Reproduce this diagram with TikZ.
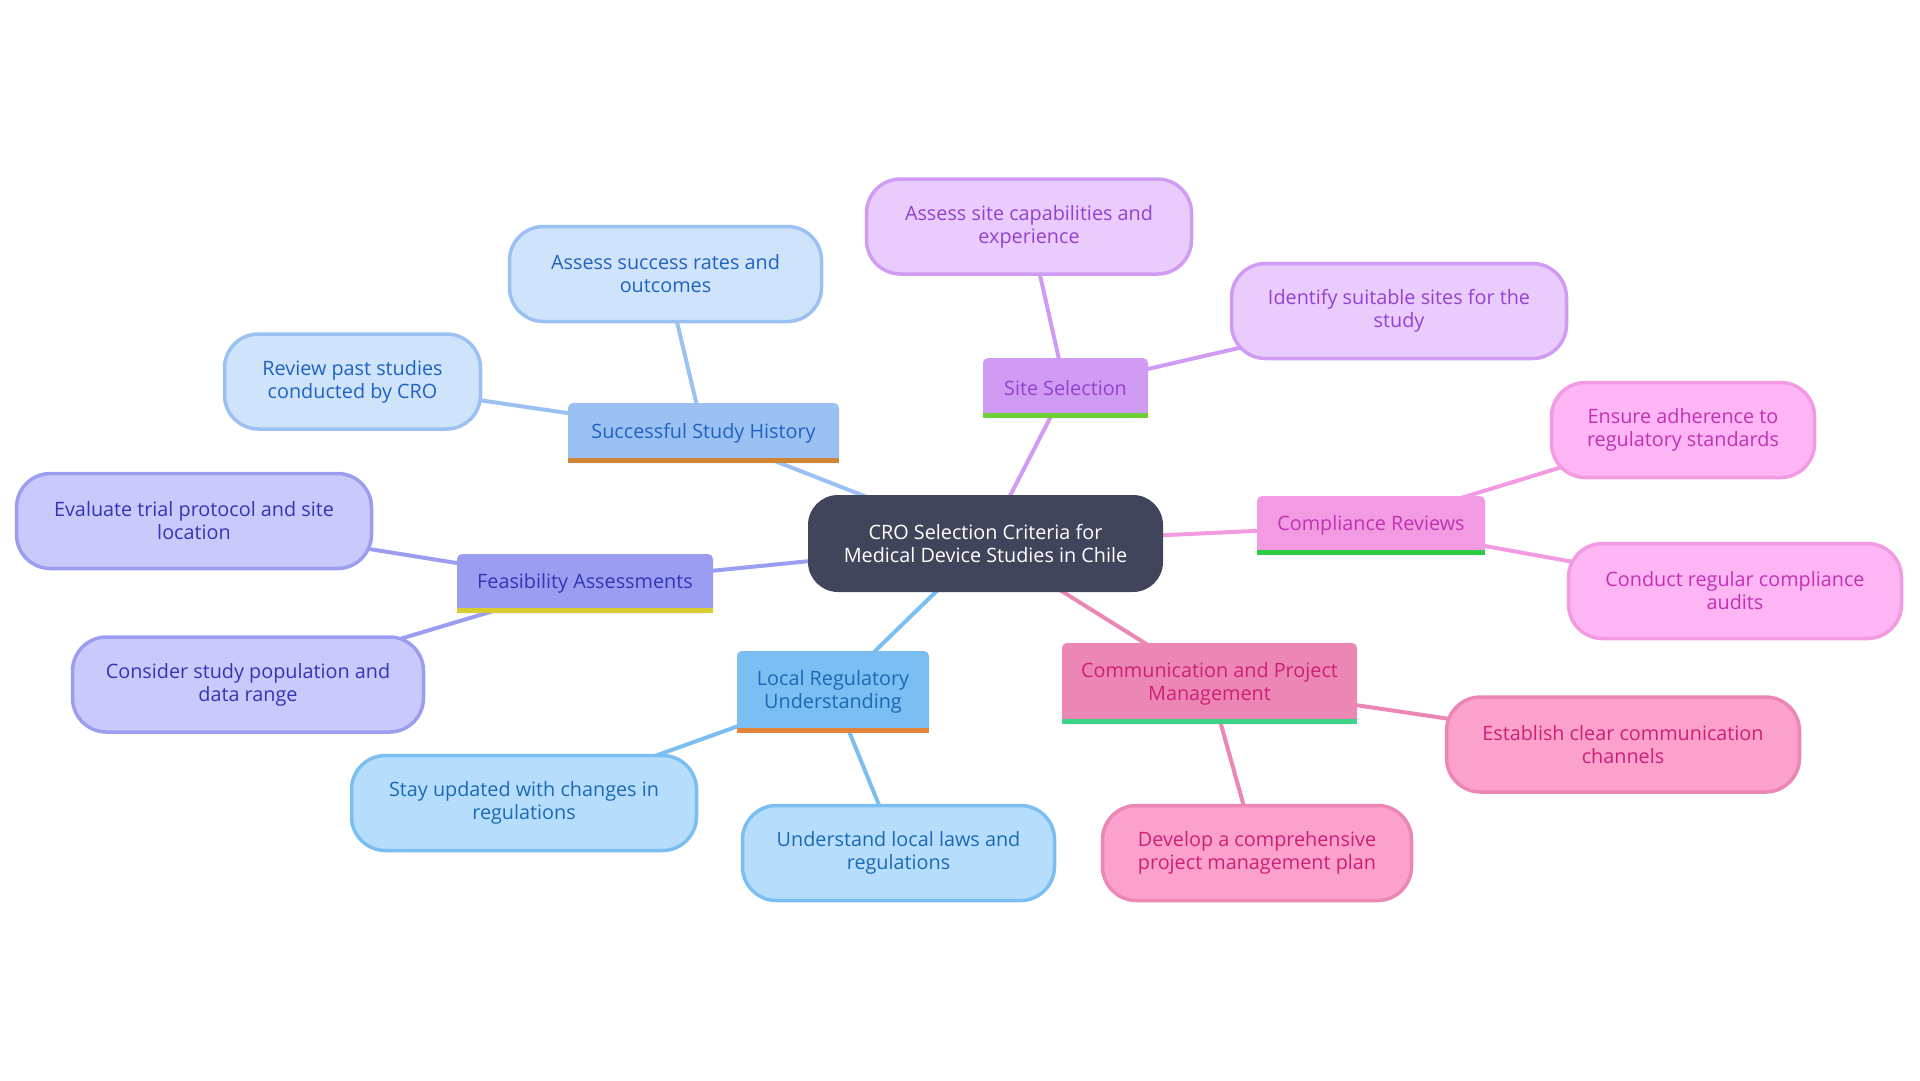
\documentclass[tikz,border=0pt]{standalone}
\usepackage{fontspec}
\setmainfont{Open Sans}
\usetikzlibrary{backgrounds}
\tikzset{every node/.style={font=\fontsize{19.8}{23}\selectfont}}
\definecolor{rootcol}{HTML}{41455C}
% branch colours: main fill, leaf fill, text, underline
\definecolor{histmain}{HTML}{9BC1F2}
\definecolor{histleaf}{HTML}{CFE3FB}
\definecolor{histtext}{HTML}{1F62C2}
\definecolor{histline}{HTML}{CF8533}
\definecolor{feasmain}{HTML}{9B9EF0}
\definecolor{feasleaf}{HTML}{C9CAFB}
\definecolor{feastext}{HTML}{3434B8}
\definecolor{feasline}{HTML}{D8CC2E}
\definecolor{regmain}{HTML}{7BBEF1}
\definecolor{regleaf}{HTML}{B6DEFC}
\definecolor{regtext}{HTML}{1B69B6}
\definecolor{regline}{HTML}{E2843A}
\definecolor{commmain}{HTML}{EC87B5}
\definecolor{commleaf}{HTML}{FBA1CB}
\definecolor{commtext}{HTML}{CF1F78}
\definecolor{commline}{HTML}{3DD488}
\definecolor{sitemain}{HTML}{D09CF3}
\definecolor{siteleaf}{HTML}{E9CBFC}
\definecolor{sitetext}{HTML}{9441D2}
\definecolor{siteline}{HTML}{6CCF36}
\definecolor{compmain}{HTML}{F29BE3}
\definecolor{compleaf}{HTML}{FDB6F3}
\definecolor{comptext}{HTML}{C231B4}
\definecolor{compline}{HTML}{2ECB45}
\tikzset{
  root/.style={fill=rootcol, text=white, rounded corners=30pt, align=center,
    inner sep=0pt, minimum width=355pt, minimum height=97pt},
  branch/.style={rounded corners=5pt, align=center, inner sep=0pt},
  leaf/.style={draw, line width=3.5pt, rounded corners=34pt, align=center,
    inner sep=0pt, minimum height=95pt},
  link/.style={line width=4pt},
  uline/.style={line width=5pt}
}

\begin{document}
\begin{tikzpicture}[x=1pt, y=-1pt]

  \useasboundingbox (0,0) rectangle (1920,1080);

  % Root.
  \node[root] (root) at (985.5,543.5)
    {CRO Selection Criteria for\\Medical Device Studies in Chile};

  % Main branches.
  \node[branch, fill=histmain, text=histtext, minimum width=271pt, minimum height=60pt]
    (hist) at (703.5,433) {Successful Study History};
  \node[branch, fill=feasmain, text=feastext, minimum width=256pt, minimum height=59pt]
    (feas) at (585,583.5) {Feasibility Assessments};
  \node[branch, fill=regmain, text=regtext, minimum width=192pt, minimum height=82pt]
    (reg) at (833,692) {Local Regulatory\\Understanding};
  \node[branch, fill=commmain, text=commtext, minimum width=295pt, minimum height=81pt]
    (comm) at (1209.5,683.5) {Communication and Project\\Management};
  \node[branch, fill=sitemain, text=sitetext, minimum width=165pt, minimum height=60pt]
    (site) at (1065.5,388) {Site Selection};
  \node[branch, fill=compmain, text=comptext, minimum width=228pt, minimum height=59pt]
    (comp) at (1371,525.5) {Compliance Reviews};

  % Underlines of the branches.
  \draw[uline, histline] ([yshift=2.5pt]hist.south west) -- ([yshift=2.5pt]hist.south east);
  \draw[uline, feasline] ([yshift=2.5pt]feas.south west) -- ([yshift=2.5pt]feas.south east);
  \draw[uline, regline] ([yshift=2.5pt]reg.south west) -- ([yshift=2.5pt]reg.south east);
  \draw[uline, commline] ([yshift=2.5pt]comm.south west) -- ([yshift=2.5pt]comm.south east);
  \draw[uline, siteline] ([yshift=2.5pt]site.south west) -- ([yshift=2.5pt]site.south east);
  \draw[uline, compline] ([yshift=2.5pt]comp.south west) -- ([yshift=2.5pt]comp.south east);

  % Leaves.
  \node[leaf, fill=histleaf, draw=histmain, text=histtext, minimum width=312pt]
    (hist1) at (665.5,274) {Assess success rates and\\outcomes};
  \node[leaf, fill=histleaf, draw=histmain, text=histtext, minimum width=256pt]
    (hist2) at (352.5,381.5) {Review past studies\\conducted by CRO};
  \node[leaf, fill=feasleaf, draw=feasmain, text=feastext, minimum width=355pt]
    (feas1) at (194,521) {Evaluate trial protocol and site\\location};
  \node[leaf, fill=feasleaf, draw=feasmain, text=feastext, minimum width=351pt]
    (feas2) at (248,684.5) {Consider study population and\\data range};
  \node[leaf, fill=regleaf, draw=regmain, text=regtext, minimum width=345pt]
    (reg1) at (524,803) {Stay updated with changes in\\regulations};
  \node[leaf, fill=regleaf, draw=regmain, text=regtext, minimum width=312pt]
    (reg2) at (898.5,853) {Understand local laws and\\regulations};
  \node[leaf, fill=commleaf, draw=commmain, text=commtext, minimum width=309pt]
    (comm1) at (1257,853) {Develop a comprehensive\\project management plan};
  \node[leaf, fill=commleaf, draw=commmain, text=commtext, minimum width=353pt]
    (comm2) at (1623,744.5) {Establish clear communication\\channels};
  \node[leaf, fill=siteleaf, draw=sitemain, text=sitetext, minimum width=325pt]
    (site1) at (1029,226.5) {Assess site capabilities and\\experience};
  \node[leaf, fill=siteleaf, draw=sitemain, text=sitetext, minimum width=335pt]
    (site2) at (1399,311) {Identify suitable sites for the\\study};
  \node[leaf, fill=compleaf, draw=compmain, text=comptext, minimum width=263pt]
    (comp1) at (1683,430) {Ensure adherence to\\regulatory standards};
  \node[leaf, fill=compleaf, draw=compmain, text=comptext, minimum width=333pt]
    (comp2) at (1735,591) {Conduct regular compliance\\audits};

  % Connectors, behind the boxes.
  \begin{scope}[on background layer]
    \draw[link, histmain] (root.center) -- (hist.center);
    \draw[link, feasmain] (root.center) -- (feas.center);
    \draw[link, regmain] (root.center) -- (reg.center);
    \draw[link, commmain] (root.center) -- (comm.center);
    \draw[link, sitemain] (root.center) -- (site.center);
    \draw[link, compmain] (root.center) -- (comp.center);
    \draw[link, histmain] (hist.center) -- (hist1.center);
    \draw[link, histmain] (hist.center) -- (hist2.center);
    \draw[link, feasmain] (feas.center) -- (feas1.center);
    \draw[link, feasmain] (feas.center) -- (feas2.center);
    \draw[link, regmain] (reg.center) -- (reg1.center);
    \draw[link, regmain] (reg.center) -- (reg2.center);
    \draw[link, commmain] (comm.center) -- (comm1.center);
    \draw[link, commmain] (comm.center) -- (comm2.center);
    \draw[link, sitemain] (site.center) -- (site1.center);
    \draw[link, sitemain] (site.center) -- (site2.center);
    \draw[link, compmain] (comp.center) -- (comp1.center);
    \draw[link, compmain] (comp.center) -- (comp2.center);
  \end{scope}

\end{tikzpicture}
\end{document}
